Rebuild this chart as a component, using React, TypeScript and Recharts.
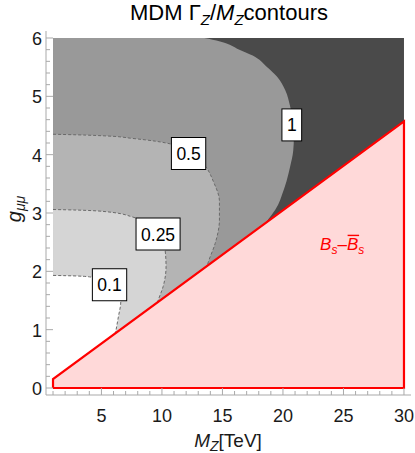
import React from 'react';
import { ComposedChart, Area, Scatter, XAxis, YAxis } from 'recharts';

// ---- axis ticks ----
const xMajorTicks = [5, 10, 15, 20, 25, 30];
const xAllTicks = [1, 2, 3, 4, 5, 6, 7, 8, 9, 10, 11, 12, 13, 14, 15, 16, 17, 18, 19, 20, 21, 22, 23, 24, 25, 26, 27, 28, 29, 30];
const yMajorTicks = [0, 1, 2, 3, 4, 5, 6];
const yAllTicks = [0, 0.2, 0.4, 0.6, 0.8, 1, 1.2, 1.4, 1.6, 1.8, 2, 2.2, 2.4, 2.6, 2.8, 3, 3.2, 3.4, 3.6, 3.8, 4, 4.2, 4.4, 4.6, 4.8, 5, 5.2, 5.4, 5.6, 5.8, 6];

// ---- regions: x = M_Z' boundary as a function of g ----
const fullRegion = [
  { g: 6, x: 30 },
  { g: 0, x: 30 },
];
const contour1 = [
  { g: 6.0, x: 13.5 }, { g: 5.94, x: 14.8 }, { g: 5.8, x: 16.4 }, { g: 5.7, x: 17.5 },
  { g: 5.5, x: 18.7 }, { g: 5.34, x: 19.5 }, { g: 5.1, x: 20.2 }, { g: 4.82, x: 20.6 },
  { g: 4.53, x: 20.85 }, { g: 4.3, x: 20.9 }, { g: 4.07, x: 20.85 }, { g: 3.8, x: 20.6 },
  { g: 3.55, x: 20.3 }, { g: 3.3, x: 19.9 }, { g: 3.14, x: 19.6 }, { g: 2.8, x: 18.5 },
  { g: 2.4, x: 17.5 }, { g: 0, x: 17.5 },
];
const contour05 = [
  { g: 4.35, x: 1 }, { g: 4.34, x: 3 }, { g: 4.32, x: 5.5 }, { g: 4.28, x: 7.5 },
  { g: 4.23, x: 9.5 }, { g: 4.17, x: 11 }, { g: 4.05, x: 12.3 }, { g: 3.9, x: 13.2 },
  { g: 3.77, x: 13.7 }, { g: 3.54, x: 14.25 }, { g: 3.2, x: 14.75 }, { g: 2.88, x: 14.75 },
  { g: 2.48, x: 14.4 }, { g: 2.17, x: 13.85 }, { g: 1.9, x: 13.5 }, { g: 0, x: 13.5 },
];
const contour025 = [
  { g: 3.06, x: 1 }, { g: 3.05, x: 3 }, { g: 3.02, x: 5.5 }, { g: 2.93, x: 7.6 },
  { g: 2.8, x: 8.8 }, { g: 2.64, x: 9.7 }, { g: 2.5, x: 10.1 }, { g: 2.37, x: 10.26 },
  { g: 2.08, x: 10.34 }, { g: 1.74, x: 10.1 }, { g: 1.51, x: 9.7 }, { g: 1.3, x: 9.4 },
  { g: 0, x: 9.4 },
];
const contour01 = [
  { g: 1.93, x: 1 }, { g: 1.92, x: 3 }, { g: 1.9, x: 4.2 }, { g: 1.84, x: 5.2 },
  { g: 1.75, x: 5.9 }, { g: 1.62, x: 6.4 }, { g: 1.48, x: 6.6 }, { g: 1.22, x: 6.4 },
  { g: 0.99, x: 6.2 }, { g: 0.8, x: 6.0 }, { g: 0, x: 6.0 },
];
// Bs-Bsbar excluded region
const bsBoundary = [
  { g: 0, x: 1 },
  { g: 0.152, x: 1 },
  { g: 4.57, x: 30 },
];
const bsOutline = [
  { x: 1, g: 0 },
  { x: 1, g: 0.152 },
  { x: 30, g: 4.57 },
  { x: 30, g: 0 },
  { x: 1, g: 0 },
];
const contourLabels = [
  { x: 20.73, g: 4.51, text: '1' },
  { x: 12.2, g: 4.02, text: '0.5' },
  { x: 9.68, g: 2.64, text: '0.25' },
  { x: 5.67, g: 1.77, text: '0.1' },
];
const bsLabel = [{ x: 24.97, g: 2.47 }];

const FONT = '"Liberation Sans", Arial, sans-serif';
const FRAME = '#a9a9a9';
const TXT = '#1a1a1a';
const C_DARK = '#4a4a4a';
const C_1 = '#999999';
const C_05 = '#b4b4b4';
const C_025 = '#d5d5d5';
const C_01 = '#ffffff';
const PINK = '#ffd9d9';
const RED = '#ff0000';
const DASH = '#6a6a6a';

const isIn = (v: number, arr: number[]) => arr.some((m) => Math.abs(m - v) < 1e-6);

const BottomTick = (p: any) => {
  const { x, y, payload } = p;
  const major = isIn(payload.value, xMajorTicks);
  return (
    <g>
      <line x1={x} x2={x} y1={y} y2={y - (major ? 7 : 4)} stroke={FRAME} />
      {major && (
        <text x={x} y={y + 27} textAnchor="middle" fontSize={18} fill={TXT} fontFamily={FONT}>
          {payload.value}
        </text>
      )}
    </g>
  );
};
const TopTick = (p: any) => {
  const { x, y, payload } = p;
  const major = isIn(payload.value, xMajorTicks);
  return <line x1={x} x2={x} y1={y} y2={y + (major ? 7 : 4)} stroke={FRAME} />;
};
const LeftTick = (p: any) => {
  const { x, y, payload } = p;
  const major = isIn(payload.value, yMajorTicks);
  return (
    <g>
      <line x1={x} x2={x + (major ? 7 : 4)} y1={y} y2={y} stroke={FRAME} />
      {major && (
        <text x={x - 4} y={y + 7} textAnchor="end" fontSize={18} fill={TXT} fontFamily={FONT}>
          {payload.value}
        </text>
      )}
    </g>
  );
};
const RightTick = (p: any) => {
  const { x, y, payload } = p;
  const major = isIn(payload.value, yMajorTicks);
  return <line x1={x} x2={x - (major ? 7 : 4)} y1={y} y2={y} stroke={FRAME} />;
};

const textW = (t: string, fs: number) =>
  t.split('').reduce((s, c) => s + (c === '.' ? 0.278 : 0.556) * fs, 0);

const LabelBox = (p: any) => {
  const { cx, cy, payload } = p;
  const w = textW(payload.text, 17.5) + 10;
  const h = 32;
  return (
    <g>
      <rect x={cx - w / 2} y={cy - h / 2} width={w} height={h} fill="#fff" stroke="#000" strokeWidth={1} />
      <text x={cx} y={cy + 6.5} textAnchor="middle" fontSize={17.5} fill="#000" fontFamily={FONT}>
        {payload.text}
      </text>
    </g>
  );
};

const BsText = (p: any) => {
  const { cx, cy } = p;
  const x0 = cx - 23;
  const base = cy + 6;
  return (
    <g fontFamily={FONT} fill={RED} fontStyle="italic">
      <text x={x0} y={base} fontSize={17}>
        B<tspan fontSize={12} dy={4}>s</tspan>
        <tspan fontSize={17} dy={-4} fontStyle="normal">–</tspan>
        <tspan fontSize={17}>B</tspan>
        <tspan fontSize={12} dy={4}>s</tspan>
      </text>
      <line x1={x0 + 27.5} x2={x0 + 39} y1={base - 14.5} y2={base - 14.5} stroke={RED} strokeWidth={1.4} />
    </g>
  );
};

const Empty = () => <g />;

export default function App() {
  return (
    <div style={{ position: 'absolute', left: 0, top: 0, width: 415, height: 453, background: '#fff' }}>
      <ComposedChart
        width={415}
        height={453}
        layout="vertical"
        margin={{ top: 31, right: 4, bottom: 0, left: 0 }}
      >
        <XAxis
          type="number"
          dataKey="x"
          domain={[0.42, 30.58]}
          allowDataOverflow
          ticks={xAllTicks}
          interval={0}
          orientation="bottom"
          height={58}
          tickSize={0}
          tickMargin={0}
          tickLine={false}
          axisLine={{ stroke: FRAME }}
          tick={(p: any) => <BottomTick {...p} />}
        />
        <XAxis
          xAxisId="t"
          type="number"
          dataKey="x"
          domain={[0.42, 30.58]}
          allowDataOverflow
          ticks={xAllTicks}
          interval={0}
          orientation="top"
          height={0}
          tickSize={0}
          tickMargin={0}
          tickLine={false}
          axisLine={{ stroke: FRAME }}
          tick={(p: any) => <TopTick {...p} />}
        />
        <YAxis
          type="number"
          dataKey="g"
          domain={[-0.12, 6.12]}
          allowDataOverflow
          reversed
          ticks={yAllTicks}
          interval={0}
          orientation="left"
          width={46}
          tickSize={0}
          tickMargin={0}
          tickLine={false}
          axisLine={{ stroke: FRAME }}
          tick={(p: any) => <LeftTick {...p} />}
        />
        <YAxis
          yAxisId="r"
          type="number"
          dataKey="g"
          domain={[-0.12, 6.12]}
          allowDataOverflow
          reversed
          ticks={yAllTicks}
          interval={0}
          orientation="right"
          width={0}
          tickSize={0}
          tickMargin={0}
          tickLine={false}
          axisLine={{ stroke: FRAME }}
          tick={(p: any) => <RightTick {...p} />}
        />
        <Area data={fullRegion} dataKey="x" baseValue={1} type="linear" fill={C_DARK} fillOpacity={1} stroke="none" isAnimationActive={false} />
        <Area data={contour1} dataKey="x" baseValue={1} type="monotone" fill={C_1} fillOpacity={1} stroke="none" isAnimationActive={false} />
        <Area data={contour05} dataKey="x" baseValue={1} type="monotone" fill={C_05} fillOpacity={1} stroke={DASH} strokeWidth={1} strokeDasharray="3 2" isAnimationActive={false} />
        <Area data={contour025} dataKey="x" baseValue={1} type="monotone" fill={C_025} fillOpacity={1} stroke={DASH} strokeWidth={1} strokeDasharray="3 2" isAnimationActive={false} />
        <Area data={contour01} dataKey="x" baseValue={1} type="monotone" fill={C_01} fillOpacity={1} stroke={DASH} strokeWidth={1} strokeDasharray="3 2" isAnimationActive={false} />
        <Area data={bsBoundary} dataKey="x" baseValue={30} type="linear" fill={PINK} fillOpacity={1} stroke="none" isAnimationActive={false} />
        <Scatter data={bsOutline} fill={RED} line={{ stroke: RED, strokeWidth: 2.2 }} shape={Empty} isAnimationActive={false} />
        <Scatter data={contourLabels} fill="#000" shape={(p: any) => <LabelBox {...p} />} isAnimationActive={false} />
        <Scatter data={bsLabel} fill={RED} shape={(p: any) => <BsText {...p} />} isAnimationActive={false} />
      </ComposedChart>
      <svg width={415} height={453} style={{ position: 'absolute', left: 0, top: 0, pointerEvents: 'none' }}>
        <text x={229} y={20} textAnchor="middle" fontSize={22} fill="#000" fontFamily={FONT}>
          MDM Γ<tspan fontSize={15} dy={5} fontStyle="italic">Z</tspan>
          <tspan dy={-5}>/</tspan>
          <tspan fontStyle="italic">M</tspan>
          <tspan fontSize={15} dy={5} fontStyle="italic">Z</tspan>
          <tspan dy={-5}>contours</tspan>
        </text>
        <text x={228} y={447} textAnchor="middle" fontSize={19} fill={TXT} fontFamily={FONT}>
          <tspan fontStyle="italic">M</tspan>
          <tspan fontSize={14} dy={4} fontStyle="italic">Z</tspan>
          <tspan dy={-4}>[TeV]</tspan>
        </text>
        <text transform="translate(21,209) rotate(-90)" textAnchor="middle" fontSize={20} fill={TXT} fontFamily={FONT}>
          <tspan fontStyle="italic">g</tspan>
          <tspan fontSize={14} dy={4} fontStyle="italic">μμ</tspan>
        </text>
      </svg>
    </div>
  );
}
